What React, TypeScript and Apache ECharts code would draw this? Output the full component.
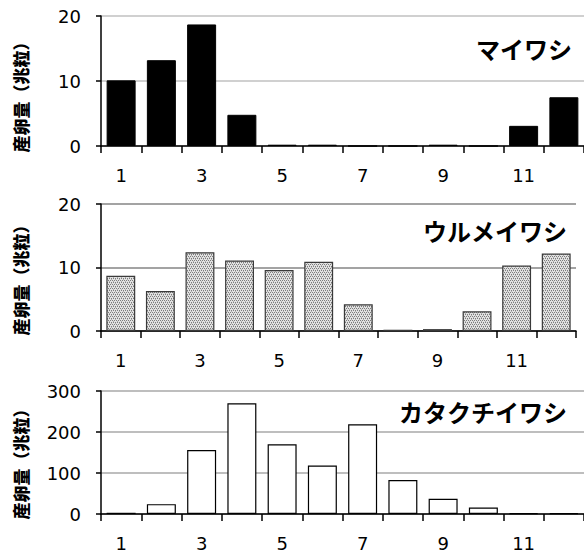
import React, { useEffect, useRef } from "react";
import * as echarts from "echarts";

const months = ["1", "2", "3", "4", "5", "6", "7", "8", "9", "10", "11", "12"];
const maiwashi = [10.1, 13.2, 18.7, 4.8, 0.2, 0.2, 0, 0, 0.2, 0, 3.1, 7.5];
const urumeiwashi = [8.7, 6.3, 12.4, 11.1, 9.6, 10.9, 4.2, 0.2, 0.3, 3.1, 10.3, 12.2];
const katakuchiiwashi = [3, 24, 156, 270, 170, 118, 219, 83, 37, 16, 2, 2];
const titles = ["マイワシ", "ウルメイワシ", "カタクチイワシ"];
const yName = "産卵量（兆粒）";

const numFont = "'DejaVu Sans', sans-serif";
const jpFont = "'Noto Sans CJK JP', sans-serif";

function makePattern(): HTMLCanvasElement {
  const c = document.createElement("canvas");
  c.width = 4;
  c.height = 4;
  const ctx = c.getContext("2d")!;
  ctx.fillStyle = "#e2e2e2";
  ctx.fillRect(0, 0, 4, 4);
  ctx.fillStyle = "#7c7c7c";
  ctx.fillRect(0, 0, 1, 1);
  ctx.fillRect(2, 0, 1, 1);
  ctx.fillRect(1, 2, 1, 1);
  ctx.fillRect(3, 2, 1, 1);
  ctx.fillStyle = "#b0b0b0";
  ctx.fillRect(1, 1, 1, 1);
  ctx.fillRect(3, 3, 1, 1);
  return c;
}

export default function App() {
  const ref = useRef<HTMLDivElement>(null);
  useEffect(() => {
    if (!ref.current) return;
    const chart = echarts.init(ref.current, undefined, { renderer: "svg" });
    const grids = [
      { left: 101, top: 16, width: 486, height: 130 },
      { left: 101, top: 204, width: 475, height: 127 },
      { left: 101, top: 391, width: 489, height: 123 },
    ];
    const splitColors = ["#c0c0c0", "#858585", "#a8a8a8"];
    const yMax = [20, 20, 300];
    const yInt = [10, 10, 100];
    const xAxis = grids.map((_, i) => ({
      type: "category",
      gridIndex: i,
      data: months,
      boundaryGap: true,
      axisLine: { show: true, lineStyle: { color: "#000", width: 1.5 } },
      axisTick: { show: true, interval: 0, length: 7, alignWithLabel: false, lineStyle: { color: "#000", width: 1.5 } },
      axisLabel: { interval: 1, margin: 20, fontSize: 18, fontFamily: numFont, color: "#000" },
    }));
    const yAxis = grids.map((_, i) => ({
      type: "value",
      gridIndex: i,
      min: 0,
      max: yMax[i],
      interval: yInt[i],
      axisLine: { show: true, lineStyle: { color: "#000", width: 1.5 } },
      axisTick: { show: true, length: 5, lineStyle: { color: "#000", width: 1.5 } },
      axisLabel: { margin: 20, fontSize: 18, fontFamily: numFont, color: "#000" },
      splitLine: { show: true, lineStyle: { color: splitColors[i], width: 1.5 } },
    }));
    const series = [
      {
        type: "bar",
        xAxisIndex: 0,
        yAxisIndex: 0,
        data: maiwashi,
        barCategoryGap: "28%",
        itemStyle: { color: "#000", borderColor: "#000", borderWidth: 1 },
      },
      {
        type: "bar",
        xAxisIndex: 1,
        yAxisIndex: 1,
        data: urumeiwashi,
        barCategoryGap: "27%",
        itemStyle: { color: { image: makePattern(), repeat: "repeat" }, borderColor: "#3a3a3a", borderWidth: 1.2 },
      },
      {
        type: "bar",
        xAxisIndex: 2,
        yAxisIndex: 2,
        data: katakuchiiwashi,
        barCategoryGap: "28%",
        itemStyle: { color: "#fff", borderColor: "#000", borderWidth: 1.2 },
      },
    ];
    const nameY = [93, 276, 460];
    const titleY = [48, 230, 411];
    const titleX = [572, 567, 567];
    const graphic: any[] = [];
    for (let i = 0; i < 3; i++) {
      graphic.push({
        type: "text",
        x: 20,
        y: nameY[i],
        rotation: Math.PI / 2,
        style: {
          text: yName,
          fontSize: 17,
          fontWeight: 900,
          fontFamily: jpFont,
          fill: "#000",
          textAlign: "center",
          textVerticalAlign: "middle",
        },
      });
      graphic.push({
        type: "text",
        x: titleX[i],
        y: titleY[i],
        style: {
          text: titles[i],
          fontSize: 24,
          fontWeight: "bold",
          fontFamily: jpFont,
          fill: "#000",
          textAlign: "right",
          textVerticalAlign: "middle",
        },
      });
    }
    chart.setOption({
      animation: false,
      grid: grids,
      xAxis,
      yAxis,
      series,
      graphic,
    } as any);
    return () => chart.dispose();
  }, []);
  return (
    <div
      ref={ref}
      style={{ position: "absolute", left: 0, top: 0, width: 584, height: 553, background: "#fff" }}
    />
  );
}
